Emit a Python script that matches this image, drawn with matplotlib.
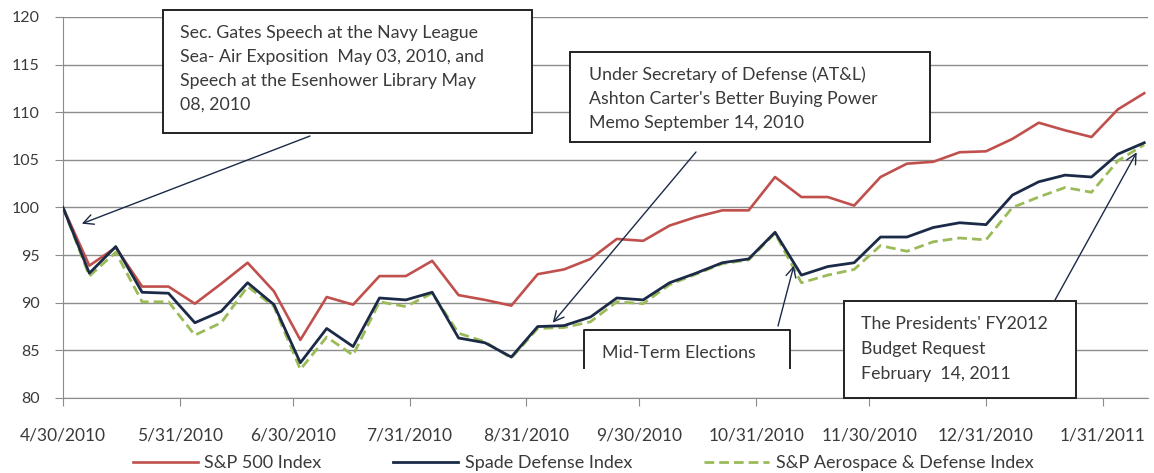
import numpy as np
import pandas as pd
import matplotlib
matplotlib.use("Agg")
import matplotlib.pyplot as plt
import matplotlib.dates as mdates
from matplotlib.patches import Rectangle
from matplotlib.lines import Line2D

plt.rcParams['font.family'] = ['Lato', 'DejaVu Sans']

# weekly closes, rebased to 100 on 4/30/2010
dates = pd.date_range("2010-04-30", periods=42, freq="7D")

sp500 = [100.0, 93.9, 95.8, 91.7, 91.7, 89.9, 92.0, 94.2, 91.2, 86.1,
         90.6, 89.8, 92.8, 92.8, 94.4, 90.8, 90.3, 89.7, 93.0, 93.5,
         94.6, 96.7, 96.5, 98.1, 99.0, 99.7, 99.7, 103.2, 101.1, 101.1,
         100.2, 103.2, 104.6, 104.8, 105.8, 105.9, 107.2, 108.9, 108.1, 107.4,
         110.3, 112.0]
spade = [100.0, 93.1, 95.9, 91.1, 91.0, 87.9, 89.1, 92.1, 89.8, 83.7,
         87.3, 85.4, 90.5, 90.3, 91.1, 86.3, 85.8, 84.3, 87.5, 87.6,
         88.5, 90.5, 90.3, 92.1, 93.1, 94.2, 94.6, 97.4, 92.9, 93.8,
         94.2, 96.9, 96.9, 97.9, 98.4, 98.2, 101.3, 102.7, 103.4, 103.2,
         105.6, 106.8]
aero = [100.0, 92.8, 95.3, 90.1, 90.1, 86.6, 87.9, 91.7, 89.6, 83.0,
        86.4, 84.5, 90.1, 89.6, 91.0, 86.8, 85.9, 84.2, 87.3, 87.4,
        88.0, 90.1, 89.9, 91.9, 93.0, 94.1, 94.5, 97.3, 92.1, 92.9,
        93.5, 96.0, 95.4, 96.4, 96.8, 96.6, 100.0, 101.1, 102.1, 101.6,
        104.9, 106.6]

tick_dates = ["2010-04-30", "2010-05-31", "2010-06-30", "2010-07-31", "2010-08-31",
              "2010-09-30", "2010-10-31", "2010-11-30", "2010-12-31", "2011-01-31"]
tick_labels = ["4/30/2010", "5/31/2010", "6/30/2010", "7/31/2010", "8/31/2010",
               "9/30/2010", "10/31/2010", "11/30/2010", "12/31/2010", "1/31/2011"]

W, H = 1154, 473
fig = plt.figure(figsize=(W / 100, H / 100), dpi=100)
ax = fig.add_axes([63 / W, 1 - 398 / H, (1148 - 63) / W, (398 - 17) / H])


def fx(px):
    return px / W


def fy(py):
    return 1 - py / H


txt_col = "#3a3a3a"
ax.plot(dates, sp500, color="#c0504d", lw=1.9, zorder=3)
ax.plot(dates, aero, color="#9bbb59", lw=2.0, ls=(0, (3.5, 1.8)), zorder=3)
ax.plot(dates, spade, color="#1b2a47", lw=2.0, zorder=4)

ax.set_ylim(80, 120)
ax.set_yticks(range(80, 121, 5))
ax.set_xlim(pd.Timestamp("2010-04-30"), pd.Timestamp("2011-02-12"))
ax.set_xticks(pd.to_datetime(tick_dates))
ax.set_xticklabels(tick_labels)
ax.grid(axis="y", color="#8c8c8c", lw=1.0)
ax.set_axisbelow(True)
for s in ["top", "right"]:
    ax.spines[s].set_visible(False)
for s in ["left", "bottom"]:
    ax.spines[s].set_color("#8c8c8c")
ax.tick_params(axis="both", colors="#8c8c8c", labelcolor=txt_col, length=6)
ax.tick_params(axis="x", pad=15, labelsize=12.5)
ax.tick_params(axis="y", pad=11, labelsize=11.5)

# annotation boxes (pixel coordinates of the picture)
boxes = [
    (163, 10, 532, 133, ["Sec. Gates Speech at the Navy League",
                         "Sea- Air Exposition  May 03, 2010, and",
                         "Speech at the Esenhower Library May",
                         "08, 2010"], 180, 33, 24),
    (570, 52, 930, 142, ["Under Secretary of Defense (AT&L)",
                         "Ashton Carter's Better Buying Power",
                         "Memo September 14, 2010"], 589, 75, 24),
    (844, 301, 1076, 398, ["The Presidents' FY2012",
                           "Budget Request",
                           "February  14, 2011"], 861, 324, 25),
]
for x0, y0, x1, y1, lines, tx, ty, dy in boxes:
    fig.add_artist(Rectangle((fx(x0), fy(y1)), fx(x1) - fx(x0), fy(y0) - fy(y1),
                             transform=fig.transFigure, facecolor="white",
                             edgecolor="#222222", lw=1.4, zorder=5))
    for i, ln in enumerate(lines):
        fig.text(fx(tx), fy(ty + i * dy), ln, fontsize=12.8, color=txt_col,
                 va="center", ha="left", zorder=6)

# mid-term box, bottom edge cut off
fig.add_artist(Rectangle((fx(584), fy(368)), fx(790) - fx(584), fy(330) - fy(368),
                         transform=fig.transFigure, facecolor="white",
                         edgecolor="none", zorder=5))
fig.add_artist(Line2D([fx(584), fx(584), fx(790), fx(790)],
                      [fy(368), fy(330), fy(330), fy(368)],
                      transform=fig.transFigure, color="#222222", lw=1.4, zorder=6))
fig.text(fx(602), fy(353), "Mid-Term Elections", fontsize=12.8, color=txt_col,
         va="center", ha="left", zorder=6)

# arrows: target (date, value), start pixel
arrows = [
    ("2010-05-05", 98.3, 310, 136),
    ("2010-09-07", 87.9, 696, 152),
    ("2010-11-10", 93.9, 778, 326),
    ("2011-02-09", 105.8, 1055, 300),
]
for d, v, sx, sy in arrows:
    ax.annotate("", xy=(pd.Timestamp(d), v), xycoords="data",
                xytext=(fx(sx), fy(sy)), textcoords="figure fraction",
                arrowprops=dict(arrowstyle="->", color="#1b2a47", lw=1.0,
                                mutation_scale=18, shrinkA=0, shrinkB=0),
                annotation_clip=False, zorder=7)

handles = [Line2D([], [], color="#c0504d", lw=1.9),
           Line2D([], [], color="#1b2a47", lw=2.0),
           Line2D([], [], color="#9bbb59", lw=2.0, ls=(0, (3.5, 1.8)))]
fig.legend(handles, ["S&P 500 Index", "Spade Defense Index",
                     "S&P Aerospace & Defense Index"],
           loc="center", bbox_to_anchor=(fx(583), fy(463)), ncol=3, frameon=False,
           fontsize=13, handlelength=3.6, columnspacing=4.0, handletextpad=0.35,
           labelcolor=txt_col)

fig.savefig("out.png", dpi=100, facecolor="white")
